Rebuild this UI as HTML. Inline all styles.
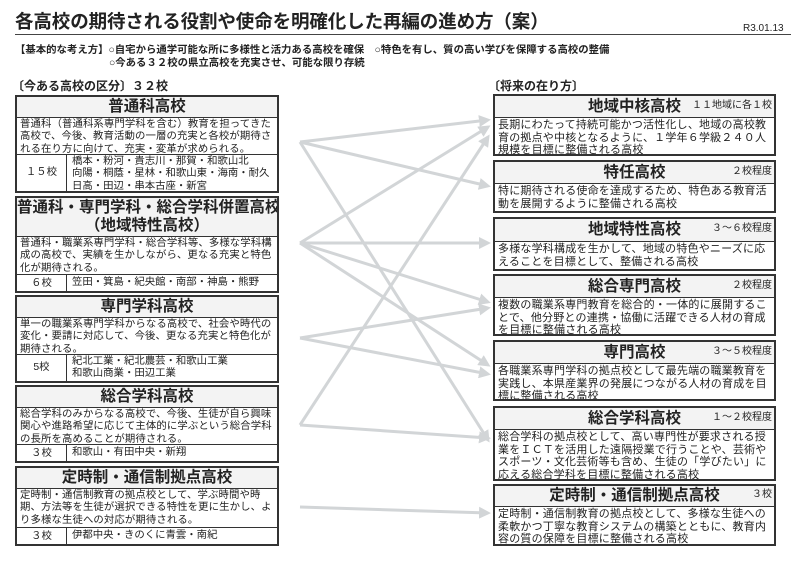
<!DOCTYPE html>
<html><head><meta charset="utf-8"><style>
*{margin:0;padding:0;box-sizing:border-box}
body{width:800px;height:582px;background:#fff;position:relative;overflow:hidden;font-family:"Liberation Sans","Noto Sans CJK JP",sans-serif;color:#222}
.a{position:absolute;white-space:nowrap}
.box{position:absolute;border:2px solid #333;background:#fff;overflow:hidden}
.t{font-weight:bold;text-align:center;font-size:15.5px;border-bottom:1px solid #333;background:#f3f3f3;position:relative;white-space:nowrap}
.d{font-size:10.4px;letter-spacing:0.1px;line-height:12.3px;padding:1px 3px;border-bottom:1px solid #333}
.c{display:flex;font-size:10.4px;line-height:12.3px}
.c .n{width:50px;flex:none;border-right:1px solid #333;display:flex;align-items:center;justify-content:center}
.c .s{padding:1px 5px;white-space:nowrap}
.r{position:absolute;right:2px;bottom:1px;font-size:10px;font-weight:normal}
.rd{font-size:11px;letter-spacing:0.2px;line-height:12.5px;padding:1px 3px}
</style></head><body>
<div class="a" style="left:15px;top:8px;font-size:18.5px;font-weight:bold;letter-spacing:-0.1px">各高校の期待される役割や使命を明確化した再編の進め方（案）</div>
<div class="a" style="left:15px;top:34px;width:776px;border-top:1.5px solid #444"></div>
<div class="a" style="left:743px;top:23px;font-size:10px">R3.01.13</div>
<div class="a" style="left:15px;top:41px;font-size:10.4px;font-weight:bold">【基本的な考え方】○自宅から通学可能な所に多様性と活力ある高校を確保　○特色を有し、質の高い学びを保障する高校の整備</div>
<div class="a" style="left:109px;top:54px;font-size:10.4px;font-weight:bold">○今ある３２校の県立高校を充実させ、可能な限り存続</div>
<div class="a" style="left:12px;top:77px;font-size:12px;font-weight:bold">〔今ある高校の区分〕３２校</div>
<div class="a" style="left:488px;top:77px;font-size:12px;font-weight:bold">〔将来の在り方〕</div>

<svg class="a" style="left:0;top:0" width="800" height="582">
<defs><marker id="m" markerWidth="4" markerHeight="4" refX="3" refY="2" orient="auto"><path d="M0,0L4,2L0,4z" fill="#d2d5d7"/></marker></defs>
<g stroke="#d2d5d7" stroke-width="3" fill="none" marker-end="url(#m)">
<line x1="300" y1="142" x2="488" y2="120"/>
<line x1="300" y1="142" x2="488" y2="186"/>
<line x1="300" y1="142" x2="488" y2="440"/>
<line x1="300" y1="243" x2="488" y2="127"/>
<line x1="300" y1="243" x2="488" y2="243"/>
<line x1="300" y1="243" x2="488" y2="302"/>
<line x1="300" y1="243" x2="488" y2="365"/>
<line x1="300" y1="338" x2="488" y2="308"/>
<line x1="300" y1="338" x2="488" y2="374"/>
<line x1="300" y1="425" x2="488" y2="438"/>
<line x1="300" y1="425" x2="488" y2="137"/>
<line x1="300" y1="507" x2="488" y2="513"/>
</g></svg>

<div class="box" style="left:15px;top:95px;width:264px;height:98px">
<div class="t" style="height:21px;line-height:20px">普通科高校</div>
<div class="d" style="height:37px">普通科（普通科系専門学科を含む）教育を担ってきた高校で、今後、教育活動の一層の充実と各校が期待される在り方に向けて、充実・変革が求められる。</div>
<div class="c" style="height:36px"><div class="n">１５校</div><div class="s">橋本・粉河・貴志川・那賀・和歌山北<br>向陽・桐蔭・星林・和歌山東・海南・耐久<br>日高・田辺・串本古座・新宮</div></div>
</div>
<div class="box" style="left:15px;top:196px;width:264px;height:97px">
<div class="t" style="height:39px;line-height:18px;padding-top:1px">普通科・専門学科・総合学科併置高校<br>（地域特性高校）</div>
<div class="d" style="height:38px">普通科・職業系専門学科・総合学科等、多様な学科構成の高校で、実績を生かしながら、更なる充実と特色化が期待される。</div>
<div class="c" style="height:16px;line-height:15px"><div class="n">６校</div><div class="s" style="padding-top:0">笠田・箕島・紀央館・南部・神島・熊野</div></div>
</div>
<div class="box" style="left:15px;top:295px;width:264px;height:88px">
<div class="t" style="height:21px;line-height:20px">専門学科高校</div>
<div class="d" style="height:37px">単一の職業系専門学科からなる高校で、社会や時代の変化・要請に対応して、今後、更なる充実と特色化が期待される。</div>
<div class="c" style="height:26px"><div class="n">5校</div><div class="s">紀北工業・紀北農芸・和歌山工業<br>和歌山商業・田辺工業</div></div>
</div>
<div class="box" style="left:15px;top:385px;width:264px;height:78px">
<div class="t" style="height:21px;line-height:20px">総合学科高校</div>
<div class="d" style="height:37px">総合学科のみからなる高校で、今後、生徒が自ら興味関心や進路希望に応じて主体的に学ぶという総合学科の長所を高めることが期待される。</div>
<div class="c" style="height:16px;line-height:15px"><div class="n">３校</div><div class="s" style="padding-top:0">和歌山・有田中央・新翔</div></div>
</div>
<div class="box" style="left:15px;top:466px;width:264px;height:80px">
<div class="t" style="height:21px;line-height:20px">定時制・通信制拠点高校</div>
<div class="d" style="height:39px">定時制・通信制教育の拠点校として、学ぶ時間や時期、方法等を生徒が選択できる特性を更に生かし、より多様な生徒への対応が期待される。</div>
<div class="c" style="height:16px;line-height:15px"><div class="n">３校</div><div class="s" style="padding-top:0">伊都中央・きのくに青雲・南紀</div></div>
</div>

<div class="box" style="left:493px;top:94px;width:283px;height:62px">
<div class="t" style="height:22px;line-height:21px">地域中核高校<span class="r">１１地域に各１校</span></div>
<div class="rd">長期にわたって持続可能かつ活性化し、地域の高校教育の拠点や中核となるように、１学年６学級２４０人規模を目標に整備される高校</div>
</div>
<div class="box" style="left:493px;top:160px;width:283px;height:53px">
<div class="t" style="height:22px;line-height:21px">特任高校<span class="r">２校程度</span></div>
<div class="rd">特に期待される使命を達成するため、特色ある教育活動を展開するように整備される高校</div>
</div>
<div class="box" style="left:493px;top:217px;width:283px;height:54px">
<div class="t" style="height:23px;line-height:22px">地域特性高校<span class="r">３～６校程度</span></div>
<div class="rd">多様な学科構成を生かして、地域の特色やニーズに応えることを目標として、整備される高校</div>
</div>
<div class="box" style="left:493px;top:274px;width:283px;height:62px">
<div class="t" style="height:22px;line-height:21px">総合専門高校<span class="r">２校程度</span></div>
<div class="rd">複数の職業系専門教育を総合的・一体的に展開することで、他分野との連携・協働に活躍できる人材の育成を目標に整備される高校</div>
</div>
<div class="box" style="left:493px;top:340px;width:283px;height:61px">
<div class="t" style="height:22px;line-height:21px">専門高校<span class="r">３～５校程度</span></div>
<div class="rd">各職業系専門学科の拠点校として最先端の職業教育を実践し、本県産業界の発展につながる人材の育成を目標に整備される高校</div>
</div>
<div class="box" style="left:493px;top:406px;width:283px;height:75px">
<div class="t" style="height:22px;line-height:21px">総合学科高校<span class="r">１～２校程度</span></div>
<div class="rd">総合学科の拠点校として、高い専門性が要求される授業をＩＣＴを活用した遠隔授業で行うことや、芸術やスポーツ・文化芸術等も含め、生徒の「学びたい」に応える総合学科を目標に整備される高校</div>
</div>
<div class="box" style="left:493px;top:484px;width:283px;height:62px">
<div class="t" style="height:21px;line-height:20px">定時制・通信制拠点高校<span class="r">３校</span></div>
<div class="rd">定時制・通信制教育の拠点校として、多様な生徒への柔軟かつ丁寧な教育システムの構築とともに、教育内容の質の保障を目標に整備される高校</div>
</div>
</body></html>
